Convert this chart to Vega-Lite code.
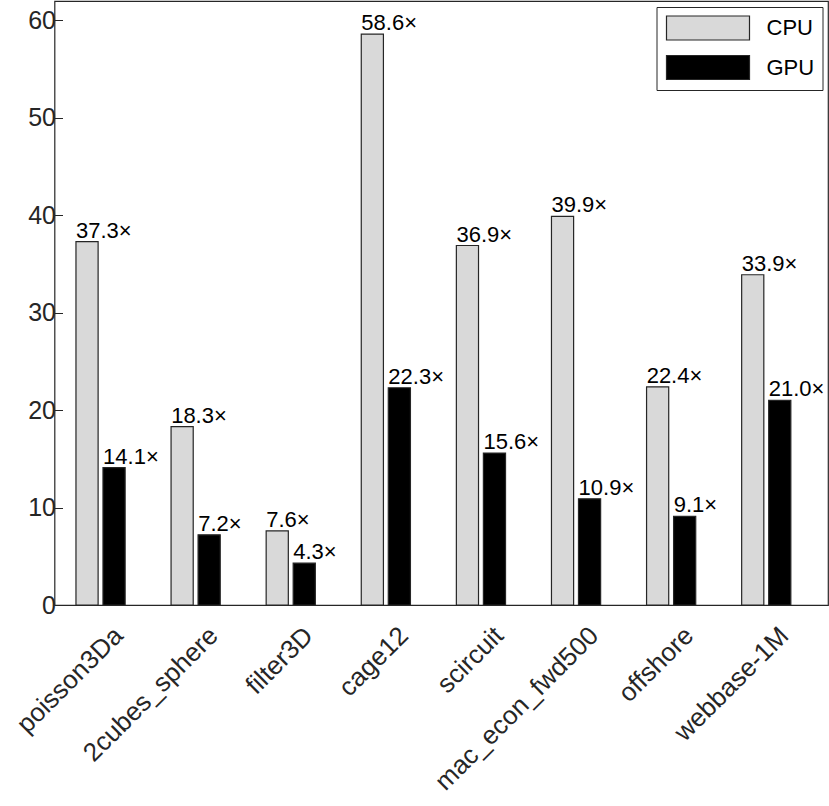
{
  "$schema": "https://vega.github.io/schema/vega-lite/v6.json",
  "autosize": "none",
  "padding": {"left": 54.5, "top": 1, "right": 1, "bottom": 201},
  "width": 773.5,
  "height": 604,
  "config": {
    "font": "Liberation Sans",
    "view": {"stroke": "#262626", "strokeWidth": 1.2},
    "axis": {"domain": false, "grid": false, "labelColor": "#262626", "tickColor": "#262626", "labelFont": "Liberation Sans"}
  },
  "data": {
    "values": [
      {"matrix": "poisson3Da", "device": "CPU", "speedup": 37.3, "label": "37.3×"},
      {"matrix": "poisson3Da", "device": "GPU", "speedup": 14.1, "label": "14.1×"},
      {"matrix": "2cubes_sphere", "device": "CPU", "speedup": 18.3, "label": "18.3×"},
      {"matrix": "2cubes_sphere", "device": "GPU", "speedup": 7.2, "label": "7.2×"},
      {"matrix": "filter3D", "device": "CPU", "speedup": 7.6, "label": "7.6×"},
      {"matrix": "filter3D", "device": "GPU", "speedup": 4.3, "label": "4.3×"},
      {"matrix": "cage12", "device": "CPU", "speedup": 58.6, "label": "58.6×"},
      {"matrix": "cage12", "device": "GPU", "speedup": 22.3, "label": "22.3×"},
      {"matrix": "scircuit", "device": "CPU", "speedup": 36.9, "label": "36.9×"},
      {"matrix": "scircuit", "device": "GPU", "speedup": 15.6, "label": "15.6×"},
      {"matrix": "mac_econ_fwd500", "device": "CPU", "speedup": 39.9, "label": "39.9×"},
      {"matrix": "mac_econ_fwd500", "device": "GPU", "speedup": 10.9, "label": "10.9×"},
      {"matrix": "offshore", "device": "CPU", "speedup": 22.4, "label": "22.4×"},
      {"matrix": "offshore", "device": "GPU", "speedup": 9.1, "label": "9.1×"},
      {"matrix": "webbase-1M", "device": "CPU", "speedup": 33.9, "label": "33.9×"},
      {"matrix": "webbase-1M", "device": "GPU", "speedup": 21.0, "label": "21.0×"}
    ]
  },
  "encoding": {
    "x": {
      "field": "matrix", "type": "nominal", "sort": null,
      "scale": {"range": [-1.5, 759.3], "paddingInner": 0, "paddingOuter": 0},
      "axis": {"title": null, "labelAngle": -45, "labelAlign": "right", "labelBaseline": "top", "labelFontSize": 26, "labelLimit": 0, "ticks": false, "labelPadding": 17, "labelOffset": 9}
    },
    "xOffset": {"field": "device", "type": "nominal", "scale": {"paddingInner": 0.18, "paddingOuter": 0.85}},
    "y": {
      "field": "speedup", "type": "quantitative",
      "scale": {"domain": [0, 62], "nice": false},
      "axis": {"title": null, "values": [0, 10, 20, 30, 40, 50, 60], "tickSize": -8, "labelFontSize": 25, "labelPadding": 7}
    }
  },
  "layer": [
    {
      "mark": {"type": "bar", "stroke": "#262626", "strokeWidth": 1.2},
      "encoding": {
        "fill": {
          "field": "device", "type": "nominal",
          "scale": {"domain": ["CPU", "GPU"], "range": ["#d9d9d9", "#000000"]},
          "legend": {
            "title": null, "orient": "top-right", "offset": 6,
            "symbolType": "M-0.917,-1H6.0V1H-0.917Z", "symbolSize": 576,
            "symbolStrokeColor": "#262626", "symbolStrokeWidth": 1.2,
            "labelFontSize": 22, "labelColor": "#000000", "labelFont": "Liberation Sans", "labelOffset": 76,
            "rowPadding": 9.5, "padding": 8,
            "strokeColor": "#262626", "fillColor": "#ffffff"
          }
        }
      }
    },
    {
      "mark": {"type": "text", "align": "left", "baseline": "alphabetic", "dx": -11, "dy": -4, "fontSize": 22, "color": "#000000", "font": "Liberation Sans"},
      "encoding": {"text": {"field": "label"}}
    }
  ]
}
